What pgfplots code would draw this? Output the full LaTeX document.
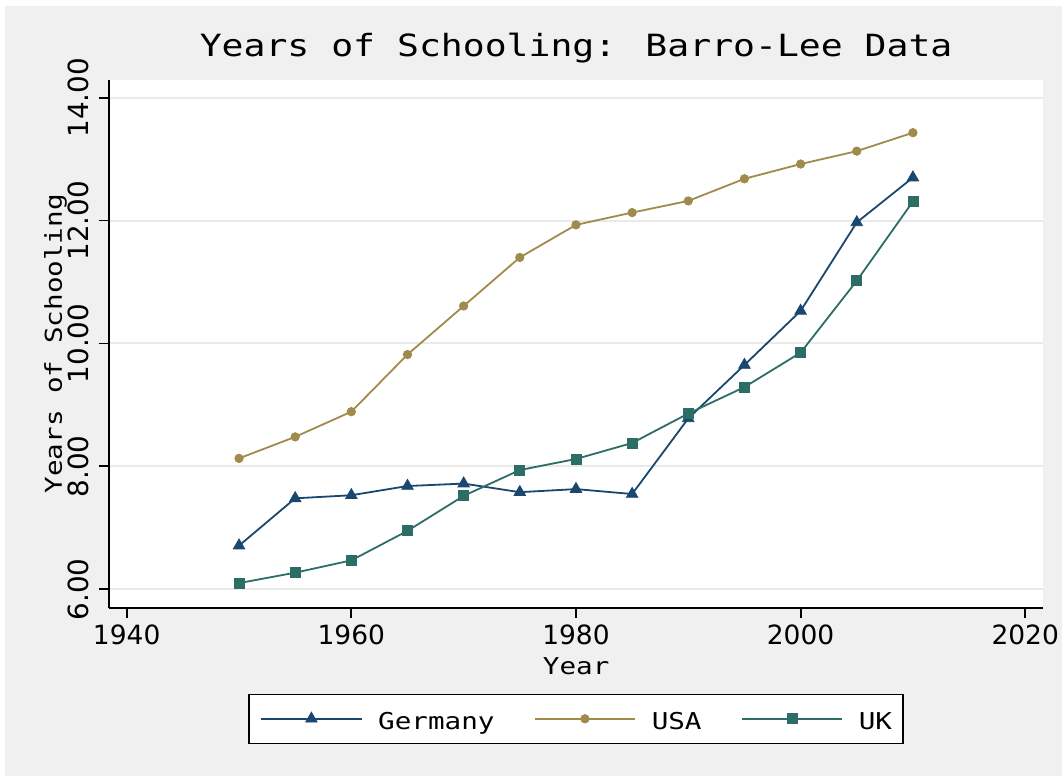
\documentclass[border=0pt]{standalone}
\usepackage{fontspec}
\setmainfont{DejaVu Sans}
\newfontfamily\monofont[FakeStretch=1.19]{DejaVu Sans Mono}
\usepackage{pgfplots}
\pgfplotsset{compat=1.18}
\definecolor{bggray}{RGB}{240,240,240}
\definecolor{sNavy}{RGB}{26,71,111}
\definecolor{sKhaki}{RGB}{160,139,75}
\definecolor{sTeal}{RGB}{44,110,102}
\definecolor{gridgray}{RGB}{234,234,234}
\begin{document}
\begin{tikzpicture}
\useasboundingbox (0,0) rectangle (531pt,388pt);
\fill[white] (0,0) rectangle (531pt,388pt);
\fill[bggray] (2.5pt,0) rectangle (531pt,385pt);
\begin{axis}[
  at={(54.65pt,84.15pt)}, anchor=south west,
  scale only axis, width=466.85pt, height=263.85pt,
  xmin=1938.45, xmax=2021.58, ymin=5.70, ymax=14.288,
  axis x line*=bottom, axis y line*=left,
  axis line style={black, line width=0.9pt, -},
  axis background/.style={fill=white},
  xtick={1940,1960,1980,2000,2020}, ytick={6,8,10,12,14},
  tick align=outside, major tick length=5pt,
  tick style={black, line width=0.9pt},
  ymajorgrids, grid style={gridgray, line width=1pt},
  /pgf/number format/assume math mode=true,
  xticklabel style={/pgf/number format/1000 sep={}, font=\fontsize{13.25}{15}\selectfont, anchor=base, inner sep=0pt, yshift=-13.65pt},
  yticklabel style={/pgf/number format/.cd, fixed, fixed zerofill, precision=2, /tikz/.cd, font=\fontsize{13.9}{15}\selectfont, xshift=-5.5pt, rotate=90, anchor=base, inner sep=0pt},
  title={Years of Schooling: Barro-Lee Data},
  title style={font=\monofont\fontsize{15.3}{18}\selectfont, at={(axis description cs:0.5,1)}, anchor=base, inner sep=0pt, yshift=5.85pt},
  xlabel={Year},
  xlabel style={font=\monofont\fontsize{11.6}{14}\selectfont, at={([yshift=-33.65pt]axis description cs:0.5,0)}, anchor=base, inner sep=0pt},
  ylabel={Years of Schooling},
  ylabel style={font=\monofont\fontsize{11.6}{14}\selectfont, at={([xshift=-23.65pt]axis description cs:0,0.5)}, rotate=0, anchor=base, inner sep=0pt},
  legend columns=3,
  legend image code/.code={\draw[mark repeat=2,mark phase=2,#1] plot coordinates {(0pt,0pt) (25.15pt,0pt) (50.3pt,0pt)};},
  legend style={at={([yshift=-55.55pt]axis description cs:0.5,0)}, anchor=center, draw=black, line width=0.75pt, fill=white, inner xsep=5.5pt, inner ysep=6.65pt,
    nodes={inner sep=0pt, text height=11.2pt, text depth=0pt, font=\monofont\fontsize{11.6}{14}\selectfont},
    /tikz/every odd column/.append style={column sep=7.8pt},
    /tikz/every even column/.append style={column sep=19.6pt}},
]
\addplot[sNavy, line width=0.9pt, mark=triangle*, mark size=3.3pt, mark options={solid, fill=sNavy, draw=sNavy, line width=0.4pt}] coordinates {
(1950,6.71) (1955,7.48) (1960,7.53) (1965,7.68) (1970,7.72) (1975,7.58) (1980,7.63) (1985,7.55) (1990,8.78) (1995,9.65) (2000,10.53) (2005,11.97) (2010,12.70)};
\addlegendentry{Germany}
\addplot[sKhaki, line width=0.9pt, mark=*, mark size=2.1pt, mark options={solid, fill=sKhaki, draw=sKhaki, line width=0.4pt}] coordinates {
(1950,8.13) (1955,8.48) (1960,8.89) (1965,9.82) (1970,10.61) (1975,11.40) (1980,11.93) (1985,12.13) (1990,12.32) (1995,12.68) (2000,12.92) (2005,13.13) (2010,13.43)};
\addlegendentry{USA}
\addplot[sTeal, line width=0.9pt, mark=square*, mark size=2.5pt, mark options={solid, fill=sTeal, draw=sTeal, line width=0.4pt}] coordinates {
(1950,6.10) (1955,6.27) (1960,6.47) (1965,6.95) (1970,7.52) (1975,7.94) (1980,8.12) (1985,8.38) (1990,8.86) (1995,9.29) (2000,9.85) (2005,11.02) (2010,12.31)};
\addlegendentry{UK}
\end{axis}
\end{tikzpicture}
\end{document}
